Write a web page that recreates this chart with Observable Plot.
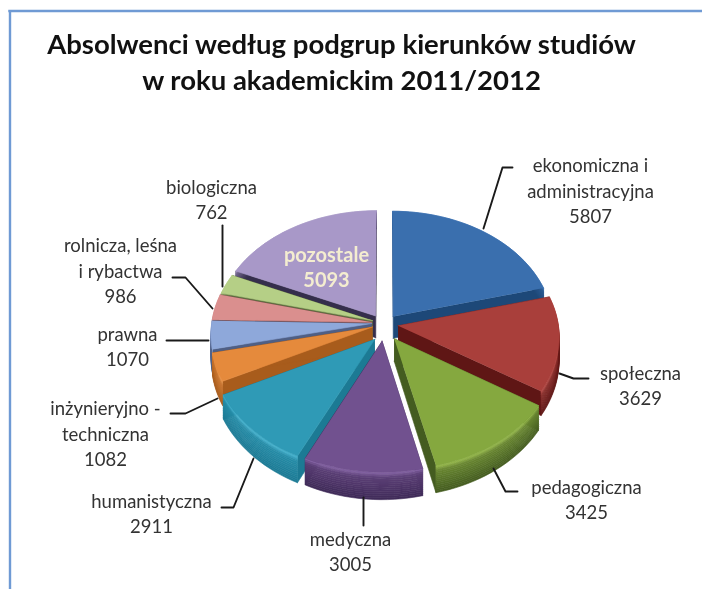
<!DOCTYPE html>
<html>
<head>
<meta charset="utf-8">
<script src="https://cdn.jsdelivr.net/npm/d3@7"></script>
<script src="https://cdn.jsdelivr.net/npm/@observablehq/plot@0.6"></script>
<style>
html,body{margin:0;padding:0;background:#fff}
svg{display:block;filter:blur(0.45px)}
</style>
</head>
<body>
<div id="chart"></div>
<script>
// ---- data
const categories = ["ekonomiczna i\nadministracyjna","społeczna","pedagogiczna","medyczna","humanistyczna","inżynieryjno -\ntechniczna","prawna","rolnicza, leśna\ni rybactwa","biologiczna","pozostale"];
const values = [5807,3629,3425,3005,2911,1082,1070,986,762,5093];
const titleLines = "Absolwenci według podgrup kierunków studiów\nw roku akademickim 2011/2012";

// ---- styling
const topColors  = ["#3a6fae","#a93f3b","#85a83f","#71518f","#2f9ab6","#e58a3c","#8ea8da","#da8f8e","#b5cf86","#a898c8"];
const lightEdge  = ["#4f86c6","#c25450","#9dc052","#8a68aa","#4fbcd8","#f3a55c","#a9bfe6","#e8a9a8","#c8dda0","#bdb0d8"];
const wallColors = ["#1d4878","#5f1615","#445c20","#3f2a58","#1c7a94","#a85c1c","#4f5f85","#7a4a4a","#5f7040","#352e4c"];
// how far each slice is pulled out of the pie, in pie radii (sideways, backwards)
const explosion  = [[0.055,0.06],[0.085,-0.02],[0.06,-0.13],[-0.015,-0.15],[-0.06,-0.135],[-0.075,-0.03],[-0.08,0],[-0.08,0.01],[-0.075,0.025],[-0.055,0.065]];
const paintOrder = [9,0,8,7,6,1,5,4,2,3];

// ---- pie layout in the picture's space
const pie = {cx:384, cy:323, rx:160, ry:116, k:0.09, depth:22};
const labelAt = [[590,189],[640,384],[586,498],[350,550],[151,512],[105,432],[127,345],[120,269],[211,198]];
const othersAt = [326,266];
const leaders = [
  [[483,228],[502,167],[512,167]],
  [[559,373],[573,378],[588,378]],
  [[493,468],[505,491],[517,491]],
  [[363,497],[363,525]],
  [[253,458],[233,507],[221,507]],
  [[217,398],[185,413],[170,413]],
  [[208,340],[166,340]],
  [[212,308],[185,277],[172,277]],
  [[222,286],[222,225]]
];

// ---- geometry derived from the values
const total = d3.sum(values);
function project(u, v, level) {
  const s = 1 / (1 + pie.k * v);
  return [pie.cx + pie.rx * u * s, pie.cy - pie.ry * v * s + level * pie.depth * s * s];
}
let running = 0;
const slices = values.map((value, i) => {
  const a0 = running / total * 2 * Math.PI;
  running += value;
  const a1 = running / total * 2 * Math.PI;
  const [ox, oy] = explosion[i];
  const n = Math.max(2, Math.ceil((a1 - a0) / 0.04));
  const rim = d3.range(n + 1).map(j => {
    const a = a0 + (a1 - a0) * j / n;
    return [ox + Math.sin(a), oy + Math.cos(a)];
  });
  return {i, ox, oy, rim};
});

const polys = [];
function addPoly(ring, color) {
  const key = polys.length ? polys[polys.length - 1].key + 1 : 0;
  for (const [x, y] of ring) polys.push({key, x, y, color});
}
const bandCount = 14;
for (const i of paintOrder) {
  const s = slices[i];
  const tip = [s.ox, s.oy];
  // radial walls
  for (const end of [s.rim[0], s.rim[s.rim.length - 1]]) {
    addPoly([project(...tip,0), project(...end,0), project(...end,1), project(...tip,1)], wallColors[i]);
  }
  // outer rim, shaded from a light edge to the dark base
  const shade = d3.scaleLinear().domain([0, 0.2, 1]).range([lightEdge[i], d3.interpolateRgb(topColors[i], wallColors[i])(0.45), wallColors[i]]);
  for (let b = 0; b < bandCount; b++) {
    const upper = s.rim.map(p => project(p[0], p[1], b / bandCount));
    const lower = s.rim.map(p => project(p[0], p[1], (b + 1) / bandCount)).reverse();
    addPoly([...upper, ...lower], shade((b + 0.5) / bandCount));
  }
  // top face
  addPoly([project(...tip,0), ...s.rim.map(p => project(p[0], p[1], 0))], topColors[i]);
}

const labelRows = labelAt.map((at, i) => ({x: at[0], y: at[1], text: categories[i] + "\n" + values[i]}));
const leaderRows = leaders.flatMap((pts, key) => pts.map(([x, y]) => ({key, x, y})));
const frameColor = "#6f9ad4";

const chart = Plot.plot({
  width: 702, height: 589,
  margin: 0,
  style: {background: "#fff", fontFamily: "Lato, 'Open Sans', sans-serif"},
  x: {domain: [0, 702], range: [0, 702], axis: null},
  y: {domain: [0, 589], range: [0, 589], axis: null},
  color: {type: "identity"},
  marks: [
    Plot.ruleY([10.5], {x1: 8.3, x2: 702, stroke: frameColor, strokeWidth: 2.4}),
    Plot.ruleX([9.5], {y1: 10, y2: 589, stroke: frameColor, strokeWidth: 2.4}),
    Plot.line(polys, {x: "x", y: "y", z: "key", fill: d => d.color, stroke: d => d.color, strokeWidth: 0.6}),
    Plot.line(leaderRows, {x: "x", y: "y", z: "key", stroke: "#1a1a1a", strokeWidth: 1.9}),
    Plot.text(labelRows, {x: "x", y: "y", text: "text", fontSize: 18.5, lineHeight: 1.38, fill: "#333", lineAnchor: "middle"}),
    Plot.text([{x: othersAt[0], y: othersAt[1], text: categories[9] + "\n" + values[9]}], {x: "x", y: "y", text: "text", fontSize: 20, fontWeight: 700, lineHeight: 1.22, fill: "#f4edd0", lineAnchor: "middle"}),
    Plot.text([titleLines], {x: 341, y: 60, text: d => d, fontSize: 27.5, fontWeight: 700, lineHeight: 1.31, fill: "#111", lineAnchor: "middle"})
  ]
});
document.getElementById("chart").appendChild(chart);
</script>
</body>
</html>
